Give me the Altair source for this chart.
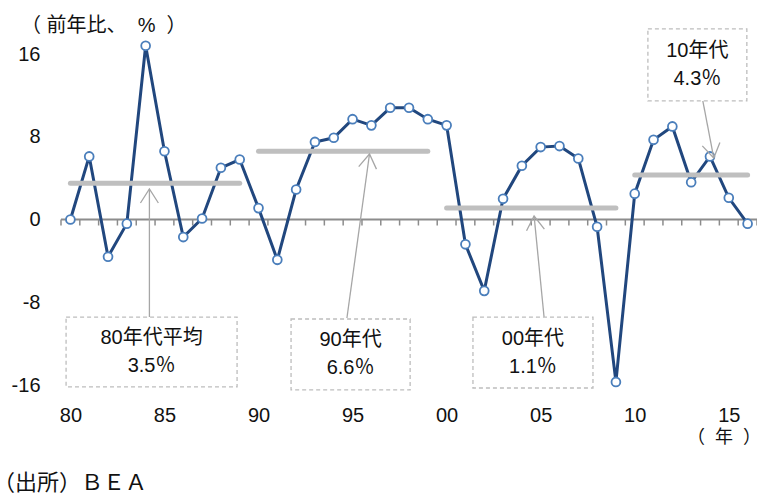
import json
import math

import altair as alt
import pandas as pd

# Annual growth rate (year-on-year, %)
years = list(range(1980, 2017))
growth = [0.0, 6.1, -3.6, -0.4, 16.8, 6.6, -1.7, 0.1, 5.0, 5.8,
          1.1, -3.9, 2.9, 7.5, 7.9, 9.7, 9.1, 10.8, 10.8, 9.7,
          9.1, -2.4, -6.9, 2.0, 5.2, 7.0, 7.1, 5.9, -0.7, -15.7,
          2.5, 7.7, 9.0, 3.6, 6.1, 2.1, -0.4]

# Decade averages
decade_start = [1980, 1990, 2000, 2010]
decade_end = [1989, 1999, 2009, 2016]
decade_avg = [3.5, 6.6, 1.1, 4.3]
decade_text = ["80年代平均\n3.5％", "90年代\n6.6％", "00年代\n1.1％", "10年代\n4.3％"]

# Axis tick values and labels
tick_years = [1980, 1985, 1990, 1995, 2000, 2005, 2010, 2015]
tick_labels = ["80", "85", "90", "95", "00", "05", "10", "15"]
y_ticks = [-16, -8, 0, 8, 16]

# Callout geometry in data units (box extent, arrow tail and tip)
box_x0 = [1979.77, 1991.73, 2001.40, 2010.70]
box_x1 = [1988.86, 1998.06, 2007.78, 2015.96]
box_y0 = [-9.43, -9.62, -9.43, 18.42]
box_y1 = [-16.19, -16.48, -16.29, 11.46]
tail_x = [1984.2, 1994.7, 2005.18, 2013.62]
tail_y = [-9.43, -9.52, -9.43, 11.46]
tip_x = [1984.2, 1995.9, 2004.65, 2014.2]
tip_y = [2.95, 6.33, 0.34, 5.95]

W, H = 696, 331
X_DOM = [1979.5, 2016.5]
Y_DOM = [-16, 16]
px_x = W / (X_DOM[1] - X_DOM[0])
px_y = H / (Y_DOM[1] - Y_DOM[0])

FONT = "Liberation Sans, Arial, Noto Sans CJK JP, sans-serif"
CJK_FONT = "Noto Sans CJK JP, sans-serif"
LINE_BLUE = "#21477e"
MARK_BLUE = "#4a7ebb"
AVG_GRAY = "#bfbfbf"
AXIS_GRAY = "#8c8c8c"
ARROW_GRAY = "#a6a6a6"
TEXT = "#111111"
NBSP = "\u00a0"

series = pd.DataFrame({"year": years, "growth": growth})
decades = pd.DataFrame({"start": decade_start, "end": decade_end, "avg": decade_avg})


def head_angle(x0, y0, x1, y1):
    dx = (x1 - x0) * px_x
    dy = -(y1 - y0) * px_y
    return math.degrees(math.atan2(dx, -dy)) % 360


notes = pd.DataFrame({
    "bx0": box_x0, "bx1": box_x1, "by0": box_y0, "by1": box_y1,
    "tx": tail_x, "ty": tail_y, "hx": tip_x, "hy": tip_y,
    "cx": [(a + b) / 2 for a, b in zip(box_x0, box_x1)],
    "cy": [(a + b) / 2 for a, b in zip(box_y0, box_y1)],
    "label": decade_text,
    "angle": [head_angle(a, b, c, d) for a, b, c, d in zip(tail_x, tail_y, tip_x, tip_y)],
})

baseline = pd.DataFrame({"x0": [X_DOM[0]], "x1": [X_DOM[1]], "y": [0]})
minor_ticks = pd.DataFrame({"x": [X_DOM[0] + k for k in range(38)], "y": 0})

xs = alt.Scale(domain=X_DOM, nice=False, zero=False)
ys = alt.Scale(domain=Y_DOM, nice=False, zero=False)

x_axis = alt.Axis(
    values=tick_years,
    labelExpr=f"{json.dumps(tick_labels)}[indexof({json.dumps(tick_years)}, datum.value)]",
    domain=False, ticks=False, grid=False, title=None,
    labelFont=FONT, labelFontSize=20, labelColor=TEXT, labelPadding=20,
    labelOverlap=False, labelFlush=False,
)
y_axis = alt.Axis(
    values=y_ticks, labelExpr="'' + datum.value",
    domain=False, ticks=False, grid=False, title=None,
    labelFont=FONT, labelFontSize=20, labelColor=TEXT, labelPadding=21,
    labelOverlap=False,
)


def X(f):
    return alt.X(f, type="quantitative", scale=xs, axis=x_axis)


def Y(f):
    return alt.Y(f, type="quantitative", scale=ys, axis=y_axis)


zero_line = alt.Chart(baseline).mark_rule(color=AXIS_GRAY, strokeWidth=2).encode(
    x=X("x0"), x2="x1", y=Y("y"))

ticks = alt.Chart(minor_ticks).mark_tick(
    orient="vertical", size=6, thickness=1.5, yOffset=3, color=AXIS_GRAY, opacity=1
).encode(x=X("x"), y=Y("y"))

line = alt.Chart(series).mark_line(color=LINE_BLUE, strokeWidth=3).encode(
    x=X("year"), y=Y("growth"))

avg_rules = alt.Chart(decades).mark_rule(
    color=AVG_GRAY, strokeWidth=5, strokeCap="round"
).encode(x=X("start"), x2="end", y=Y("avg"))

points = alt.Chart(series).mark_point(
    shape="circle", filled=True, fill="white", stroke=MARK_BLUE,
    strokeWidth=1.8, size=78, opacity=1
).encode(x=X("year"), y=Y("growth"))

shafts = alt.Chart(notes).mark_rule(color=ARROW_GRAY, strokeWidth=1.3).encode(
    x=X("tx"), x2="hx", y=Y("ty"), y2="hy")

heads = alt.Chart(notes).mark_point(
    shape="M-0.64,1L0,0L0.64,1", filled=False, stroke=ARROW_GRAY,
    strokeWidth=1.3, size=784, opacity=1
).encode(x=X("hx"), y=Y("hy"), angle=alt.Angle("angle:Q", scale=None))

boxes = alt.Chart(notes).mark_rect(
    fill="white", stroke="#bdbdbd", strokeWidth=1.3, strokeDash=[4, 3]
).encode(x=X("bx0"), x2="bx1", y=Y("by0"), y2="by1")

box_text = alt.Chart(notes).mark_text(
    font=FONT, fontSize=20, color=TEXT, align="center", baseline="middle",
    lineBreak="\n", lineHeight=28, dy=-14
).encode(x=X("cx"), y=Y("cy"), text="label:N")

unit_y = alt.Chart(baseline).mark_text(
    text=f"（ 前年比、{NBSP} % {NBSP}）", font=FONT, fontSize=20, color=TEXT,
    align="left", baseline="middle"
).encode(x=alt.value(-40), y=alt.value(-28))

unit_x = alt.Chart(baseline).mark_text(
    text=f"（{NBSP} 年{NBSP} ）", font=FONT, fontSize=18, color=TEXT,
    align="left", baseline="middle"
).encode(x=alt.value(626), y=alt.value(384))

source = alt.Chart(baseline).mark_text(
    text="（出所）ＢＥＡ", font=CJK_FONT, fontSize=22, color=TEXT,
    align="left", baseline="middle"
).encode(x=alt.value(-68), y=alt.value(429))

chart = alt.layer(
    zero_line, ticks, line, avg_rules, points, shafts, heads, boxes, box_text,
    unit_y, unit_x, source,
).properties(
    width=W, height=H,
    padding={"left": 61, "top": 54, "right": 0, "bottom": 108},
    autosize=alt.AutoSizeParams(type="none"),
    background="white",
).configure_view(stroke=None)

chart.save("out.html", embed_options={"renderer": "svg", "actions": False})
